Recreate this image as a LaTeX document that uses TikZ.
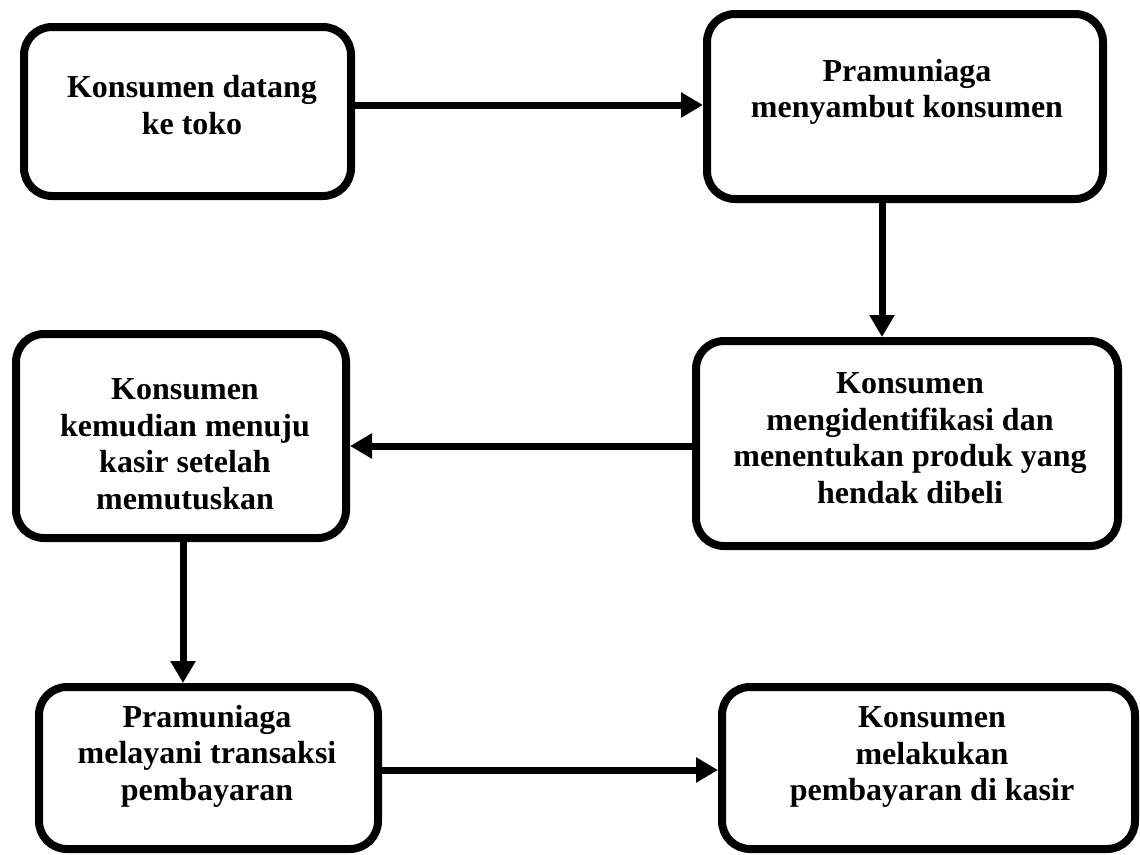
\documentclass[tikz,border=0pt]{standalone}
\usepackage{fontspec}
\setmainfont{Liberation Serif}
\usetikzlibrary{arrows.meta}
\tikzset{
  box/.style={draw=black, line width=8pt, rounded corners=28pt, rectangle, fill=white},
  txt/.style={align=center, font=\fontsize{32}{36.5}\selectfont\bfseries, inner sep=0pt},
  arr/.style={line width=7pt, -{Triangle[length=22pt,width=24pt]}}
}
\begin{document}
\begin{tikzpicture}[x=1pt,y=-1pt]
\useasboundingbox (0,0) rectangle (1140,854);
\node[box, minimum width=327pt, minimum height=169pt] (b1) at (187.5,111.5) {};
\node[box, minimum width=396pt, minimum height=185pt] (b2) at (905,106.5) {};
\node[box, minimum width=422pt, minimum height=205pt] (b3) at (907,443.5) {};
\node[box, minimum width=330pt, minimum height=204pt] (b4) at (181,436) {};
\node[box, minimum width=339pt, minimum height=162pt] (b5) at (208.5,768) {};
\node[box, minimum width=413pt, minimum height=162pt] (b6) at (928.5,768) {};
\node[txt] (t1) at (192,105) {Konsumen datang\\ke toko};
\node[txt] (t2) at (907,92) {Pramuniaga\\menyambut konsumen};
\node[txt] (t3) at (910,438) {Konsumen\\mengidentifikasi dan\\menentukan produk yang\\hendak dibeli};
\node[txt] (t4) at (185,444) {Konsumen\\kemudian menuju\\kasir setelah\\memutuskan};
\node[txt] (t5) at (207,756) {Pramuniaga\\melayani transaksi\\pembayaran};
\node[txt] (t6) at (932,757) {Konsumen\\melakukan\\pembayaran di kasir};
\coordinate (y1) at (0,105);
\coordinate (x2) at (882,0);
\coordinate (y3) at (0,446);
\coordinate (x4) at (183,0);
\coordinate (y5) at (0,770);
\draw[arr] (b1.east |- y1) -- (b2.west |- y1);
\draw[arr] (b2.south -| x2) -- (b3.north -| x2);
\draw[arr] (b3.west |- y3) -- (b4.east |- y3);
\draw[arr] (b4.south -| x4) -- (b5.north -| x4);
\draw[arr] (b5.east |- y5) -- (b6.west |- y5);
\end{tikzpicture}
\end{document}
